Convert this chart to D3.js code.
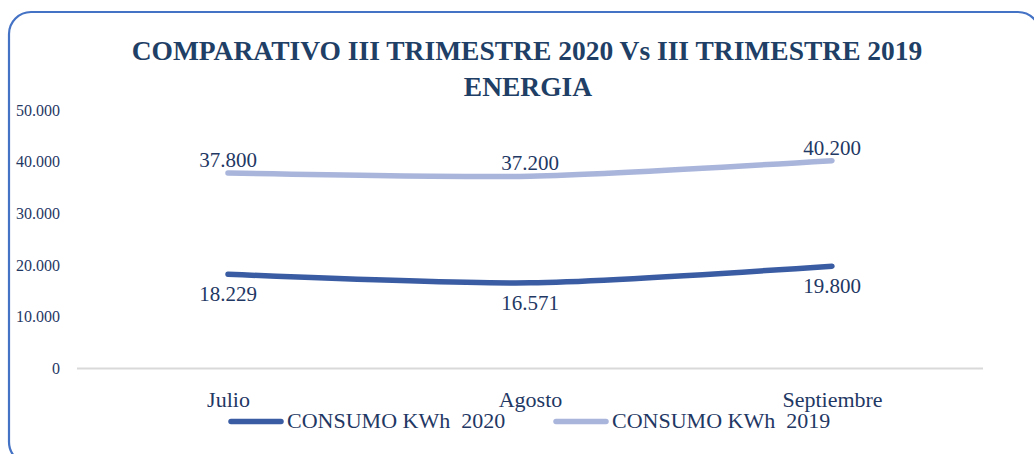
<!DOCTYPE html>
<html>
<head>
<meta charset="utf-8">
<script src="https://cdn.jsdelivr.net/npm/d3@7"></script>
<style>
  html, body { margin: 0; padding: 0; background: #fff; }
  svg { display: block; }
  text { font-family: "Liberation Serif", "DejaVu Serif", serif; }
</style>
</head>
<body>
<svg id="chart" width="1034" height="454"></svg>
<script>
const titleLines = ["COMPARATIVO III TRIMESTRE 2020 Vs III TRIMESTRE 2019", "ENERGIA"];
const categories = ["Julio", "Agosto", "Septiembre"];
const seriesNames = ["CONSUMO KWh  2020", "CONSUMO KWh  2019"];
const values2020 = [18229, 16571, 19800];
const values2019 = [37800, 37200, 40200];
const yTicks = [0, 10000, 20000, 30000, 40000, 50000];

const svg = d3.select("#chart");
const textColor = "#1F3864";
const titleColor = "#1F3F66";
const col2020 = "#3A5CA3";
const col2019 = "#A9B5DB";
const serif = "Liberation Serif, DejaVu Serif, serif";

// border
svg.append("rect")
  .attr("x", 9).attr("y", 12)
  .attr("width", 1031).attr("height", 452)
  .attr("rx", 22).attr("ry", 22)
  .attr("fill", "none")
  .attr("stroke", "#4472C4")
  .attr("stroke-width", 2.2);

// title
svg.append("text")
  .attr("x", 527).attr("y", 60)
  .attr("text-anchor", "middle")
  .attr("font-size", 27.5).attr("font-weight", "bold")
  .attr("fill", titleColor)
  .text(titleLines[0]);
svg.append("text")
  .attr("x", 528).attr("y", 96)
  .attr("text-anchor", "middle")
  .attr("font-size", 27.5).attr("font-weight", "bold")
  .attr("fill", titleColor)
  .text(titleLines[1]);

const x = d3.scalePoint().domain(categories).range([77, 983]).padding(0.5);
const y = d3.scaleLinear().domain([0, 50000]).range([368.5, 110]);

const fmt = v => d3.format(",")(v).replace(/,/g, ".");

// y axis labels
const yAxis = d3.axisLeft(y).tickValues(yTicks).tickSize(0).tickPadding(0).tickFormat(fmt);
const gy = svg.append("g").attr("transform", "translate(60,0)").call(yAxis)
  .attr("font-family", serif).attr("font-size", 16);
gy.select(".domain").remove();
gy.selectAll("text").attr("fill", textColor);

// baseline gridline
svg.append("line")
  .attr("x1", 77).attr("x2", 983)
  .attr("y1", y(0)).attr("y2", y(0))
  .attr("stroke", "#D9D9D9").attr("stroke-width", 2);

// x axis labels
const xAxis = d3.axisBottom(x).tickSize(0).tickPadding(0);
const gx = svg.append("g").attr("transform", "translate(0,391)").call(xAxis)
  .attr("font-family", serif).attr("font-size", 22);
gx.select(".domain").remove();
gx.selectAll("text").attr("fill", textColor);

const line = d3.line().x((d, i) => x(categories[i])).y(d => y(d)).curve(d3.curveCardinal.tension(0.3));

// series 2019
svg.append("path").datum(values2019)
  .attr("d", line).attr("fill", "none")
  .attr("stroke", col2019).attr("stroke-width", 5.5)
  .attr("stroke-linecap", "round").attr("stroke-linejoin", "round");
// series 2020
svg.append("path").datum(values2020)
  .attr("d", line).attr("fill", "none")
  .attr("stroke", col2020).attr("stroke-width", 5.5)
  .attr("stroke-linecap", "round").attr("stroke-linejoin", "round");

// labels
svg.selectAll(".lab2019").data(values2019).enter().append("text")
  .attr("x", (d, i) => x(categories[i]))
  .attr("y", d => y(d) - 6)
  .attr("text-anchor", "middle")
  .attr("font-size", 21).attr("fill", textColor)
  .text(fmt);
svg.selectAll(".lab2020").data(values2020).enter().append("text")
  .attr("x", (d, i) => x(categories[i]))
  .attr("y", d => y(d) + 27)
  .attr("text-anchor", "middle")
  .attr("font-size", 21).attr("fill", textColor)
  .text(fmt);

// legend
const legendItems = [
  {name: seriesNames[0], color: col2020, x: 229},
  {name: seriesNames[1], color: col2019, x: 554}
];
legendItems.forEach(it => {
  svg.append("line")
    .attr("x1", it.x + 2).attr("x2", it.x + 52)
    .attr("y1", 421.5).attr("y2", 421.5)
    .attr("stroke", it.color).attr("stroke-width", 5.5)
    .attr("stroke-linecap", "round");
  svg.append("text")
    .attr("x", it.x + 58).attr("y", 428)
    .attr("font-size", 22).attr("fill", textColor)
    .style("white-space", "pre")
    .text(it.name);
});
</script>
</body>
</html>
